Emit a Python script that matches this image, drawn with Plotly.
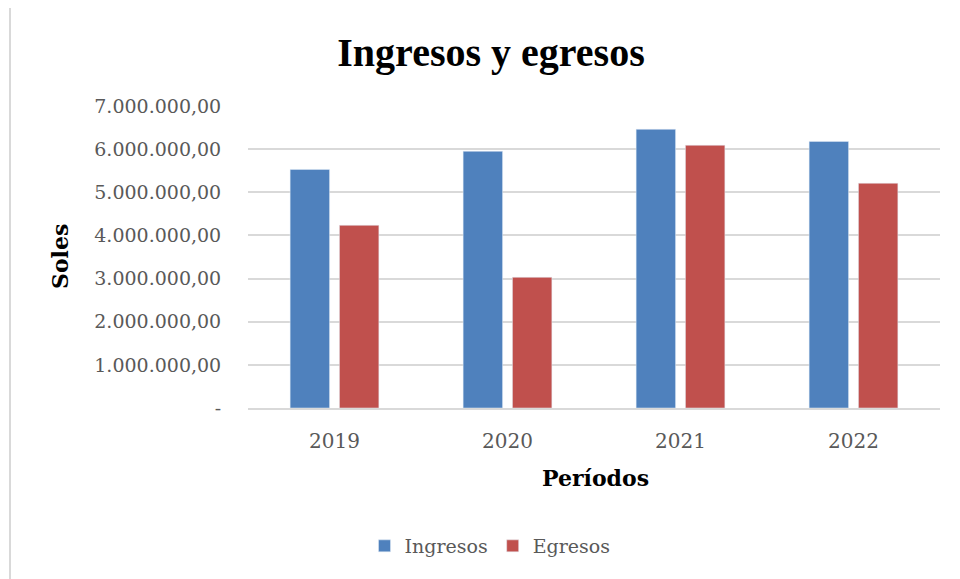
import plotly.graph_objects as go

categories = ["2019", "2020", "2021", "2022"]
ingresos = [5530000, 5950000, 6460000, 6180000]
egresos = [4235000, 3030000, 6090000, 5210000]
tick_vals = [0, 1000000, 2000000, 3000000, 4000000, 5000000, 6000000, 7000000]
tick_text = ["-", "1.000.000,00", "2.000.000,00", "3.000.000,00", "4.000.000,00",
             "5.000.000,00", "6.000.000,00", "7.000.000,00"]

FONT = "DejaVu Serif"
TFONT = "Liberation Serif"
W, H = 960, 579
L, R, T, B = 248, 20, 106, 171
pw = W - L - R
ph = H - T - B

def px_x(x):
    return (x - L) / pw

def px_y(y):
    return (H - B - y) / ph

fig = go.Figure()
fig.add_trace(go.Bar(name="Ingresos", x=categories, y=ingresos, marker_color="#4F81BD"))
fig.add_trace(go.Bar(name="Egresos", x=categories, y=egresos, marker_color="#C0504D"))

fig.update_layout(
    width=W, height=H,
    margin=dict(l=L, r=R, t=T, b=B),
    paper_bgcolor="white", plot_bgcolor="white",
    barmode="group", bargap=0.43, bargroupgap=0.2,
    title=dict(text="<b>Ingresos y egresos</b>", x=491 / W, xanchor="center",
               y=1 - 52 / H, yanchor="middle",
               font=dict(family=TFONT, size=40, color="black")),
    font=dict(family=FONT, color="#595959"),
    legend=dict(orientation="h", x=px_x(490), xanchor="center", y=px_y(546), yanchor="middle",
                font=dict(family=FONT, size=19, color="#595959"), itemwidth=30,
                traceorder="normal"),
    showlegend=True,
)
fig.update_yaxes(range=[0, 7000000], tickvals=tick_vals, ticktext=tick_text,
                 showgrid=True, gridcolor="#D9D9D9", gridwidth=1.5,
                 zeroline=False, showline=False,
                 ticks="outside", ticklen=22, tickcolor="rgba(0,0,0,0)",
                 tickfont=dict(family=FONT, size=19, color="#595959"))
fig.update_xaxes(showline=True, linecolor="#D9D9D9", linewidth=1.5,
                 ticks="outside", ticklen=14, tickcolor="rgba(0,0,0,0)",
                 tickfont=dict(family=FONT, size=20, color="#595959"))

fig.add_annotation(text="<b>Soles</b>", textangle=-90, x=px_x(60), y=px_y(257),
                   xref="paper", yref="paper", showarrow=False,
                   xanchor="center", yanchor="middle",
                   font=dict(family=FONT, size=22, color="black"))
fig.add_annotation(text="<b>Períodos</b>", x=px_x(595), y=px_y(478),
                   xref="paper", yref="paper", showarrow=False,
                   xanchor="center", yanchor="middle",
                   font=dict(family=FONT, size=22, color="black"))
fig.add_shape(type="line", xref="paper", yref="paper",
              x0=px_x(10), x1=px_x(10), y0=px_y(8), y1=px_y(579),
              line=dict(color="#D9D9D9", width=2))

fig.write_html("out.html", config={"displayModeBar": False},
               post_script="document.body.style.margin='0';document.body.style.overflow='hidden';")
